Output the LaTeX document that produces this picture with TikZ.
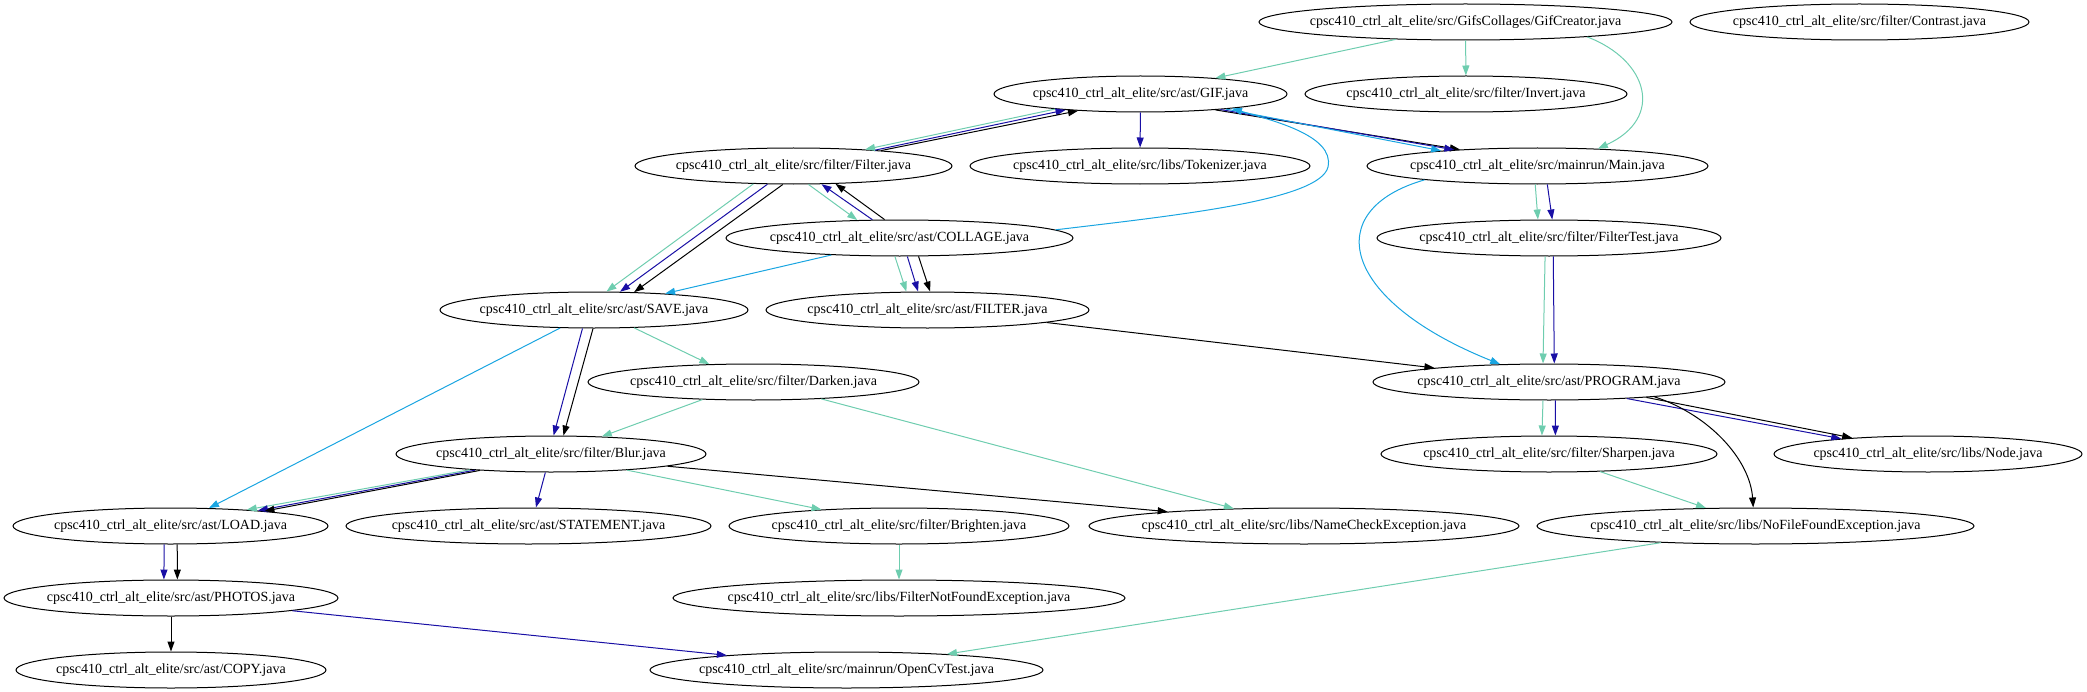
\documentclass[tikz,border=0pt]{standalone}
\usepackage{fontspec}
\setmainfont{Liberation Serif}
\usetikzlibrary{arrows.meta,shapes.geometric}
\definecolor{mint}{RGB}{110,205,175}
\definecolor{dblue}{RGB}{25,15,165}
\definecolor{sky}{RGB}{25,165,225}
\newcommand\nt[1]{\makebox[0pt]{#1}}
\newcommand\cpre{cpsc410\_ctrl\_alt\_elite/src/}
\begin{document}
\begin{tikzpicture}[x=1bp,y=-1bp,
  gnode/.style={draw, ellipse, line width=1bp, minimum height=36bp, inner sep=0pt,
    font=\fontsize{14bp}{16bp}\selectfont},
  edge/.style={line width=1bp, -{Triangle[length=10bp,width=7bp]}},
  em/.style={edge, draw=mint},
  eb/.style={edge, draw=dblue},
  ek/.style={edge, draw=black},
  ec/.style={edge, draw=sky}]
\useasboundingbox (0,0) rectangle (2087,692);
% nodes
\node[gnode, minimum width=413bp] (gifcreator) at (1465.5,22) {\nt{\cpre GifsCollages/GifCreator.java}};
\node[gnode, minimum width=339bp] (contrast) at (1859.5,22) {\nt{\cpre filter/Contrast.java}};
\node[gnode, minimum width=293bp] (gif) at (1140.5,94) {\nt{\cpre ast/GIF.java}};
\node[gnode, minimum width=322bp] (invert) at (1466,94) {\nt{\cpre filter/Invert.java}};
\node[gnode, minimum width=317bp] (filter) at (793.5,166) {\nt{\cpre filter/Filter.java}};
\node[gnode, minimum width=340bp] (tokenizer) at (1140,166) {\nt{\cpre libs/Tokenizer.java}};
\node[gnode, minimum width=341bp] (main) at (1537.5,166) {\nt{\cpre mainrun/Main.java}};
\node[gnode, minimum width=347bp] (collage) at (899.5,238) {\nt{\cpre ast/COLLAGE.java}};
\node[gnode, minimum width=344bp] (filtertest) at (1549,238) {\nt{\cpre filter/FilterTest.java}};
\node[gnode, minimum width=308bp] (save) at (594,310) {\nt{\cpre ast/SAVE.java}};
\node[gnode, minimum width=323bp] (filterast) at (927.5,310) {\nt{\cpre ast/FILTER.java}};
\node[gnode, minimum width=331bp] (darken) at (753.5,382) {\nt{\cpre filter/Darken.java}};
\node[gnode, minimum width=352bp] (program) at (1549,382) {\nt{\cpre ast/PROGRAM.java}};
\node[gnode, minimum width=310bp] (blur) at (551,454) {\nt{\cpre filter/Blur.java}};
\node[gnode, minimum width=336bp] (sharpen) at (1549,454) {\nt{\cpre filter/Sharpen.java}};
\node[gnode, minimum width=308bp] (nodej) at (1928,454) {\nt{\cpre libs/Node.java}};
\node[gnode, minimum width=315bp] (load) at (170.5,526) {\nt{\cpre ast/LOAD.java}};
\node[gnode, minimum width=365bp] (statement) at (528.5,526) {\nt{\cpre ast/STATEMENT.java}};
\node[gnode, minimum width=340bp] (brighten) at (899,526) {\nt{\cpre filter/Brighten.java}};
\node[gnode, minimum width=430bp] (namecheck) at (1304,526) {\nt{\cpre libs/NameCheckException.java}};
\node[gnode, minimum width=437bp] (nofile) at (1755.5,526) {\nt{\cpre libs/NoFileFoundException.java}};
\node[gnode, minimum width=334bp] (photos) at (171,598) {\nt{\cpre ast/PHOTOS.java}};
\node[gnode, minimum width=452bp] (fnf) at (899,598) {\nt{\cpre libs/FilterNotFoundException.java}};
\node[gnode, minimum width=310bp] (copy) at (171,670) {\nt{\cpre ast/COPY.java}};
\node[gnode, minimum width=393bp] (opencv) at (846.5,670) {\nt{\cpre mainrun/OpenCvTest.java}};
% edges
\draw[em] (gifcreator.-166.8) -- (gif.12.4);
\draw[em] (gifcreator) -- (invert);
\draw[em] (gifcreator.-7.4) .. controls (1648,60) and (1665,118) .. (main.16.2);
\draw[em] (gif.-170.1) -- (filter.13.8);
\draw[eb] (filter.11.5) -- (gif.-168.3);
\draw[ek] (filter.10.1) -- (gif.-165.9);
\draw[eb] (gif) -- (tokenizer);
\draw[ek] (gif.-12.7) -- (main.168.0);
\draw[eb] (gif.-11.5) -- (main.169.7);
\draw[ec] (gif.-10.3) -- (main.171.0);
\draw[ec] (collage.3.7) .. controls (1180,215) and (1320,200) .. (1328,167) .. controls (1335,135) and (1270,120) .. (gif.-9.4);
\draw[em] (filter.-156.8) -- (save.56.2);
\draw[eb] (filter.-145.1) -- (save.35.4);
\draw[ek] (filter.-120.3) -- (save.24.0);
\draw[em] (filter.-51.0) -- (collage.157.7);
\draw[eb] (collage.146.1) -- (filter.-33.8);
\draw[ek] (collage.129.0) -- (filter.-23.8);
\draw[ec] (collage.-166.7) -- (save.13.4);
\draw[em] (collage.-104.0) -- (filterast.139.0);
\draw[eb] (collage.-67.4) -- (filterast.117.9);
\draw[ek] (collage.-44.1) -- (filterast.82.1);
\draw[ek] (filterast.-6.2) -- (program.173.6);
\draw[em] (main.-97.9) -- (filtertest.121.5);
\draw[eb] (main.-62.1) -- (filtertest.80.5);
\draw[ec] (main.-173.2) .. controls (1320,210) and (1340,300) .. (program.160.6);
\draw[em] (filtertest.-102.5) -- (program.108.4);
\draw[eb] (filtertest.-77.5) -- (program.74.5);
\draw[ec] (save.-152.7) -- (load.25.6);
\draw[eb] (save.-122.6) -- (blur.82.1);
\draw[ek] (save.-93.2) -- (blur.56.2);
\draw[em] (save.-24.7) -- (darken.158.2);
\draw[em] (darken.-161.3) -- (blur.19.2);
\draw[em] (darken.-14.7) -- (namecheck.166.1);
\draw[em] (blur.-169.1) -- (load.12.4);
\draw[eb] (blur.-168.1) -- (load.10.5);
\draw[ek] (blur.-167.1) -- (load.9.2);
\draw[eb] (blur.-107.0) -- (statement.68.2);
\draw[em] (blur.-12.1) -- (brighten.168.2);
\draw[ek] (blur.-6.1) -- (namecheck.174.5);
\draw[em] (program.-108.4) -- (sharpen.111.3);
\draw[eb] (program.-71.6) -- (sharpen.71.6);
\draw[eb] (program.-12.0) -- (nodej.170.0);
\draw[ek] (program.-9.6) -- (nodej.168.2);
\draw[ek] (program.-8.2) .. controls (1710,415) and (1750,460) .. (nofile.97.9);
\draw[em] (sharpen.-19.4) -- (nofile.160.9);
\draw[em] (brighten) -- (fnf);
\draw[eb] (load.-109.9) -- (photos.111.3);
\draw[ek] (load.-70.1) -- (photos.71.6);
\draw[ek] (photos) -- (copy);
\draw[eb] (photos.-6.3) -- (opencv.173.9);
\draw[em] (nofile.-170.7) -- (opencv.9.1);
\end{tikzpicture}
\end{document}
